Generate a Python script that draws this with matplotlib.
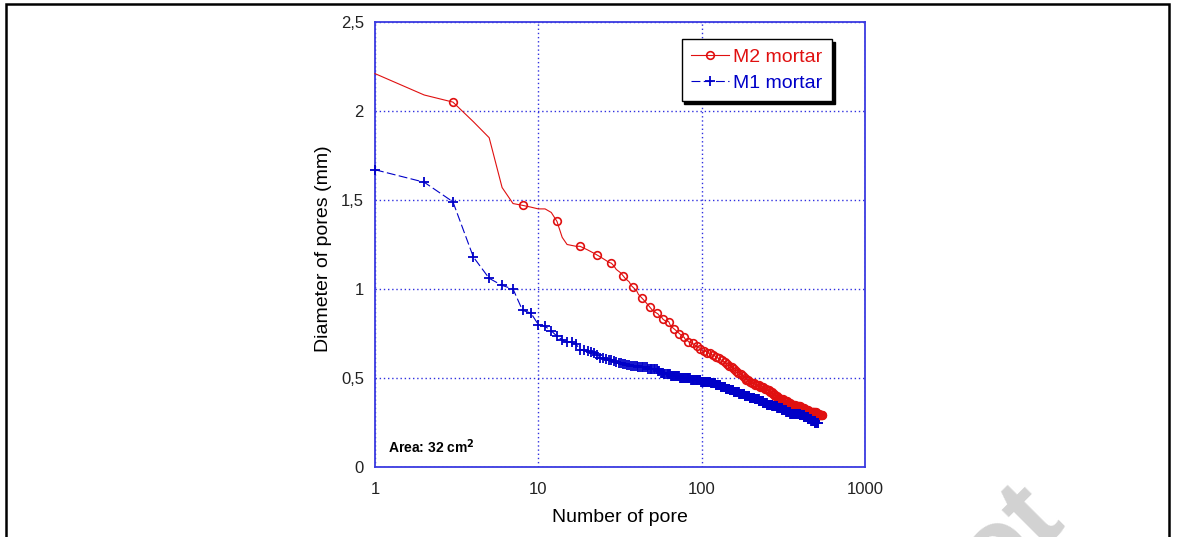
import numpy as np
import matplotlib
matplotlib.use("Agg")
import matplotlib.pyplot as plt
from matplotlib.patches import Rectangle
from matplotlib.ticker import NullLocator

plt.rcParams['font.family'] = ['Liberation Sans', 'DejaVu Sans']

# M2 mortar: diameters of the largest 100 pores (ranked), then the tail as diameter levels + counts
m2_top = [2.21, 2.09, 2.05, 1.94, 1.85, 1.57, 1.48, 1.47, 1.46, 1.45,
          1.45, 1.43, 1.38, 1.29, 1.25, 1.245, 1.24, 1.24, 1.23, 1.22,
          1.21, 1.20, 1.19, 1.18, 1.17, 1.16, 1.15, 1.145, 1.13, 1.11,
          1.10, 1.09, 1.075, 1.06, 1.05, 1.04, 1.02, 1.01, 1.00, 0.99,
          0.97, 0.96, 0.95, 0.94, 0.93, 0.92, 0.91, 0.90, 0.89, 0.88,
          0.875, 0.87, 0.865, 0.86, 0.85, 0.845, 0.84, 0.83, 0.825, 0.82,
          0.82, 0.82, 0.815, 0.80, 0.79, 0.785, 0.78, 0.775, 0.77, 0.765,
          0.76, 0.755, 0.75, 0.745, 0.74, 0.735, 0.73, 0.73, 0.72, 0.715,
          0.71, 0.71, 0.705, 0.70, 0.70, 0.70, 0.695, 0.695, 0.69, 0.69,
          0.685, 0.68, 0.68, 0.675, 0.67, 0.67, 0.67, 0.665, 0.665, 0.66]
m2_tail_d = [0.65, 0.64, 0.63, 0.62, 0.61, 0.60, 0.59, 0.58, 0.57, 0.56,
             0.55, 0.54, 0.53, 0.52, 0.51, 0.50, 0.49, 0.48, 0.47, 0.46,
             0.45, 0.44, 0.43, 0.42, 0.41, 0.40, 0.39, 0.38, 0.37, 0.36,
             0.35, 0.34, 0.33, 0.32, 0.31, 0.30, 0.29]
m2_tail_n = [7, 7, 6, 5, 5, 5, 5, 5, 6, 5,
             5, 5, 5, 5, 4, 7, 7, 6, 12, 13,
             13, 12, 9, 10, 10, 10, 11, 16, 17, 17,
             25, 25, 25, 25, 50, 25, 25]

# M1 mortar
m1_top = [1.67, 1.60, 1.49, 1.18, 1.06, 1.02, 1.00, 0.88, 0.865, 0.80,
          0.79, 0.765, 0.735, 0.715, 0.70, 0.70, 0.69, 0.66, 0.655, 0.65,
          0.645, 0.64, 0.63, 0.615, 0.61, 0.605, 0.60, 0.60, 0.595, 0.59,
          0.585, 0.585, 0.58, 0.58, 0.575, 0.575]
m1_tail_d = [0.57, 0.56, 0.55, 0.54, 0.53, 0.52, 0.51, 0.50, 0.49, 0.48,
             0.47, 0.46, 0.45, 0.44, 0.43, 0.42, 0.41, 0.40, 0.39, 0.38,
             0.37, 0.36, 0.35, 0.34, 0.33, 0.32, 0.31, 0.30, 0.29, 0.28,
             0.27, 0.26, 0.25]
m1_tail_n = [4, 6, 7, 2, 3, 6, 9, 12, 13, 15,
             8, 9, 9, 9, 8, 13, 13, 14, 14, 13,
             14, 13, 20, 20, 20, 19, 19, 52, 23, 23,
             23, 23, 24]

m2 = np.concatenate([m2_top, np.repeat(m2_tail_d, m2_tail_n)])
m1 = np.concatenate([m1_top, np.repeat(m1_tail_d, m1_tail_n)])
m2_rank = np.arange(1, len(m2) + 1)
m1_rank = np.arange(1, len(m1) + 1)

xticks = [1, 10, 100, 1000]
yticks = [0, 0.5, 1, 1.5, 2, 2.5]
ytick_labels = ["0", "0,5", "1", "1,5", "2", "2,5"]

W, H = 1179, 537
fig = plt.figure(figsize=(W / 100, H / 100), dpi=100)
ax = fig.add_axes([375 / W, 1 - 467 / H, 490 / W, 445 / H])

red = "#e01010"
blue = "#0000c8"
ax.plot(m2_rank, m2, color=red, lw=0.8, marker="o", ms=5.5, mfc="none",
        mec=red, mew=1.2, markevery=(2, 5), label="M2 mortar", clip_on=False, zorder=3)
ax.plot(m1_rank, m1, color=blue, lw=0.8, ls=(0, (8, 3)), marker="+", ms=7,
        mew=1.3, label="M1 mortar", clip_on=False, zorder=4)

ax.set_xscale("log")
ax.set_xlim(1, 1000)
ax.set_ylim(0, 2.5)
ax.set_xticks(xticks)
ax.set_xticklabels([str(v) for v in xticks])
ax.xaxis.set_minor_locator(NullLocator())
ax.set_yticks(yticks)
ax.set_yticklabels(ytick_labels)
ax.tick_params(axis="x", length=0, pad=11, labelsize=12, labelcolor="#222222")
ax.tick_params(axis="y", length=0, pad=8, labelsize=12, labelcolor="#222222")
ax.grid(True, which="major", color="#3030e0", ls=(0, (1, 2)), lw=1)
for sp in ax.spines.values():
    sp.set_color("#3a3ae0")
    sp.set_linewidth(1.3)

ax.set_xlabel("Number of pore", fontsize=14)
ax.set_ylabel("Diameter of pores (mm)", fontsize=14)
ax.xaxis.set_label_coords(0.5, (467 - 509) / 445)
ax.yaxis.set_label_coords((332 - 375) / 490, 0.49)

ax.text(0.027, 0.031, r"Area: 32 cm$^\mathbf{2}$", transform=ax.transAxes,
        fontsize=10, fontweight="bold", va="baseline")

leg = ax.legend(loc="upper right", bbox_to_anchor=(0.933, 0.962), borderaxespad=0,
                fontsize=14, frameon=True, fancybox=False, handlelength=1.95,
                handletextpad=0.2, borderpad=0.5, labelspacing=0.4,
                shadow={"facecolor": "black", "edgecolor": "black", "alpha": 1})
leg.get_frame().set_edgecolor("black")
leg.get_frame().set_linewidth(1)
for txt, c in zip(leg.get_texts(), [red, blue]):
    txt.set_color(c)

# page frame
fig.add_artist(Rectangle((6 / W, -0.1), (1169 - 6) / W, 1.1 - 4 / H,
                         transform=fig.transFigure, fill=False, ec="black", lw=1.8))

# watermark fragment
fig.text(1010 / W, 1 - 610 / H, "ot", rotation=45, fontsize=78, color="#d2d2d2",
         fontweight="bold", ha="center", va="bottom", zorder=0)

fig.savefig("out.png", dpi=100)
